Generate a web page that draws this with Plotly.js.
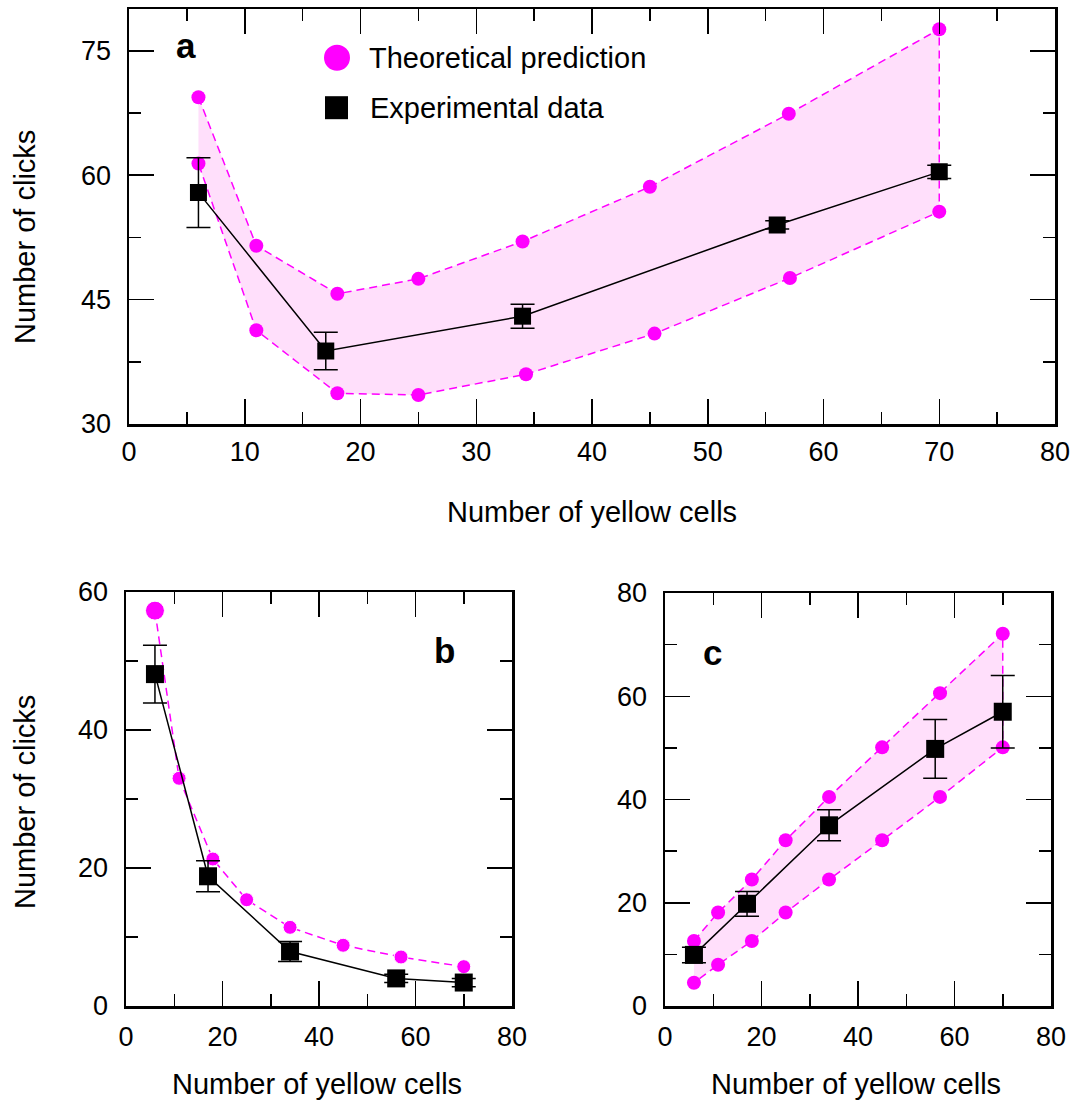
<!DOCTYPE html>
<html>
<head>
<meta charset="utf-8">
<script src="https://cdn.plot.ly/plotly-3.0.1.min.js"></script>
<style>html,body{margin:0;padding:0;background:#fff;}#chart{width:1084px;height:1103px;}</style>
</head>
<body>
<div id="chart"></div>
<script>
// ---- data ----
const theoryX = [6, 11, 18, 25, 34, 45, 57, 70];
const aLowerX = [6, 11, 18, 25, 34.3, 45.4, 57.1, 70];
const aUpper = [69.4, 51.5, 45.7, 47.5, 52.0, 58.6, 67.4, 77.6];
const aLower = [61.4, 41.3, 33.7, 33.5, 36.0, 40.9, 47.6, 55.6];
const expX = [6, 17, 34, 56, 70];
const aExp = [57.9, 38.8, 43.0, 54.0, 60.4];
const aExpErr = [4.2, 2.25, 1.45, 0.5, 0.8];

const bTheory = [57.3, 33.0, 21.3, 15.4, 11.4, 8.8, 7.1, 5.7];
const bExp = [48.1, 18.8, 7.9, 4.0, 3.4];
const bExpErr = [4.2, 2.25, 1.45, 0.6, 0.6];

const cUpper = [12.6, 18.1, 24.5, 32.1, 40.5, 50.1, 60.6, 72.1];
const cLower = [4.5, 8.0, 12.6, 18.1, 24.5, 32.1, 40.5, 50.1];
const cExp = [9.9, 19.8, 35.0, 49.8, 57.0];
const cExpErr = [1.5, 2.4, 3.0, 5.7, 7.0];

const legendLabels = ['Theoretical prediction', 'Experimental data'];
const panelLetters = ['a', 'b', 'c'];
const xTitle = 'Number of yellow cells';
const yTitle = 'Number of clicks';

// ---- styles ----
const MAG = '#ff00ff';
const FILL = '#ffdffb';
const FONT = 'Liberation Sans, Arial, sans-serif';
const W = 1084, H = 1103;
const px = v => v / W;
const py = v => 1 - v / H;

function band(xu, yu, xl, yl, ax, ay) {
  return {
    x: xu.concat(xl.slice().reverse()),
    y: yu.concat(yl.slice().reverse()),
    xaxis: ax, yaxis: ay, mode: 'lines+markers', fill: 'toself', fillcolor: FILL,
    line: {color: MAG, width: 1.5, dash: '8px,5px'},
    marker: {color: MAG, size: 14, opacity: 1}, hoverinfo: 'skip', showlegend: false
  };
}
function expTrace(y, err, ax, ay, size) {
  return {
    x: expX, y: y, xaxis: ax, yaxis: ay, mode: 'lines+markers',
    line: {color: 'black', width: 1.5},
    marker: {symbol: 'square', color: 'black', size: size, opacity: 1},
    error_y: {type: 'data', array: err, visible: true, color: 'black', thickness: 1.5, width: 12},
    hoverinfo: 'skip', showlegend: false
  };
}

const traces = [
  band(theoryX, aUpper, aLowerX, aLower, 'x', 'y'),
  expTrace(aExp, aExpErr, 'x', 'y', 17),
  {
    x: theoryX, y: bTheory, xaxis: 'x2', yaxis: 'y2', mode: 'lines+markers',
    line: {color: MAG, width: 1.5, dash: '8px,5px'},
    marker: {color: MAG, size: [19, 14, 14, 14, 14, 14, 14, 14], opacity: 1},
    hoverinfo: 'skip', showlegend: false
  },
  expTrace(bExp, bExpErr, 'x2', 'y2', 18),
  band(theoryX, cUpper, theoryX, cLower, 'x3', 'y3'),
  expTrace(cExp, cExpErr, 'x3', 'y3', 18)
];

function axis(domain, range, dtick, minorDtick, anchor, extra) {
  return Object.assign({
    domain: domain, range: range, anchor: anchor,
    tickmode: 'linear', tick0: range[0], dtick: dtick,
    ticks: 'inside', ticklen: 25, tickwidth: 1.5, tickcolor: 'black',
    minor: {tick0: range[0], dtick: minorDtick, ticks: 'inside', ticklen: 12, tickwidth: 1.5, tickcolor: 'black', showgrid: false},
    showline: true, linewidth: 2.5, linecolor: 'black', mirror: 'allticks',
    showgrid: false, zeroline: false,
    tickfont: {family: FONT, size: 27, color: 'black'},
    fixedrange: true
  }, extra || {});
}

const layout = {
  width: W, height: H,
  margin: {l: 0, r: 0, t: 0, b: 0},
  paper_bgcolor: 'white', plot_bgcolor: 'rgba(0,0,0,0)',
  showlegend: false,
  font: {family: FONT, color: 'black'},
  xaxis: axis([px(129), px(1055)], [0, 80], 10, 5, 'y', {ticklabelstandoff: 2}),
  yaxis: axis([py(424), py(9.3)], [30, 80], 15, 7.5, 'x', {ticklabelstandoff: 10}),
  xaxis2: axis([px(126), px(512)], [0, 80], 20, 10, 'y2', {ticklabelstandoff: 5}),
  yaxis2: axis([py(1006), py(592)], [0, 60], 20, 10, 'x2', {ticklabelstandoff: 10}),
  xaxis3: axis([px(665), px(1051)], [0, 80], 20, 10, 'y3', {ticklabelstandoff: 5}),
  yaxis3: axis([py(1006), py(593)], [0, 80], 20, 10, 'x3', {ticklabelstandoff: 10}),
  shapes: [
    {type: 'circle', xref: 'paper', yref: 'paper', x0: px(324), x1: px(350), y0: py(70.7), y1: py(44.7),
     fillcolor: MAG, line: {width: 0}},
    {type: 'rect', xref: 'paper', yref: 'paper', x0: px(325), x1: px(348), y0: py(119.2), y1: py(96.2),
     fillcolor: 'black', line: {width: 0}}
  ],
  annotations: [
    {text: legendLabels[0], xref: 'paper', yref: 'paper', x: px(367), y: py(58), xanchor: 'left', yanchor: 'middle', showarrow: false, font: {size: 29}},
    {text: legendLabels[1], xref: 'paper', yref: 'paper', x: px(368), y: py(108), xanchor: 'left', yanchor: 'middle', showarrow: false, font: {size: 29}},
    {text: '<b>' + panelLetters[0] + '</b>', xref: 'paper', yref: 'paper', x: px(186), y: py(45), xanchor: 'center', yanchor: 'middle', showarrow: false, font: {size: 35}},
    {text: '<b>' + panelLetters[1] + '</b>', xref: 'paper', yref: 'paper', x: px(444), y: py(650), xanchor: 'center', yanchor: 'middle', showarrow: false, font: {size: 35}},
    {text: '<b>' + panelLetters[2] + '</b>', xref: 'paper', yref: 'paper', x: px(712), y: py(652), xanchor: 'center', yanchor: 'middle', showarrow: false, font: {size: 35}},
    {text: xTitle, xref: 'paper', yref: 'paper', x: px(592), y: py(512), xanchor: 'center', yanchor: 'middle', showarrow: false, font: {size: 29}},
    {text: xTitle, xref: 'paper', yref: 'paper', x: px(317), y: py(1084), xanchor: 'center', yanchor: 'middle', showarrow: false, font: {size: 29}},
    {text: xTitle, xref: 'paper', yref: 'paper', x: px(856), y: py(1084), xanchor: 'center', yanchor: 'middle', showarrow: false, font: {size: 29}},
    {text: yTitle, xref: 'paper', yref: 'paper', x: px(25), y: py(237), xanchor: 'center', yanchor: 'middle', textangle: -90, showarrow: false, font: {size: 29}},
    {text: yTitle, xref: 'paper', yref: 'paper', x: px(25), y: py(802), xanchor: 'center', yanchor: 'middle', textangle: -90, showarrow: false, font: {size: 29}}
  ]
};

Plotly.newPlot('chart', traces, layout, {displayModeBar: false, staticPlot: true});
</script>
</body>
</html>
